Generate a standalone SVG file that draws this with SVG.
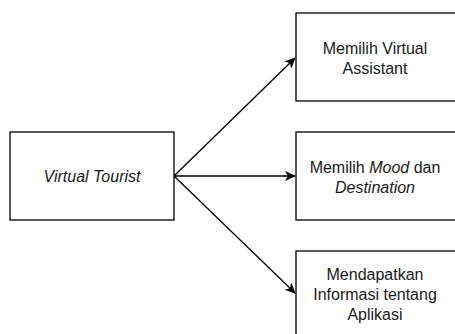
<svg xmlns="http://www.w3.org/2000/svg" width="455" height="334" viewBox="0 0 455 334">
<defs>
<marker id="arr" markerWidth="12" markerHeight="12" refX="10" refY="5" orient="auto" markerUnits="userSpaceOnUse">
<path d="M0,0 L11,5 L0,10 L3,5 Z" fill="#000"/>
</marker>
<style>
.box{fill:#fff;stroke:#000;stroke-width:1.3}
.t{font-family:"Liberation Sans",Arial,sans-serif;font-size:16px;fill:#1a1a1a;text-anchor:middle}
.i{font-style:italic}
.c{stroke:#000;stroke-width:1.3;fill:none}
</style>
</defs>
<rect width="455" height="334" fill="#fff"/>
<g id="connectors">
<line class="c" x1="174" y1="176" x2="295" y2="58" marker-end="url(#arr)"/>
<line class="c" x1="174" y1="176" x2="295" y2="176" marker-end="url(#arr)"/>
<line class="c" x1="174" y1="176" x2="295" y2="293" marker-end="url(#arr)"/>
</g>
<g id="virtual-tourist">
<rect class="box" x="10" y="132" width="164" height="88"/>
<text class="t i" x="92" y="182">Virtual Tourist</text>
</g>
<g id="memilih-va">
<rect class="box" x="296" y="13" width="160" height="88"/>
<text class="t" x="375" y="54">Memilih Virtual</text>
<text class="t" x="375" y="74">Assistant</text>
</g>
<g id="memilih-mood">
<rect class="box" x="296" y="132" width="160" height="88"/>
<text class="t" x="375" y="173">Memilih <tspan class="i">Mood</tspan> dan</text>
<text class="t i" x="375" y="193">Destination</text>
</g>
<g id="mendapatkan">
<rect class="box" x="296" y="251" width="160" height="88"/>
<text class="t" x="375" y="280">Mendapatkan</text>
<text class="t" x="375" y="300">Informasi tentang</text>
<text class="t" x="375" y="320">Aplikasi</text>
</g>
</svg>
